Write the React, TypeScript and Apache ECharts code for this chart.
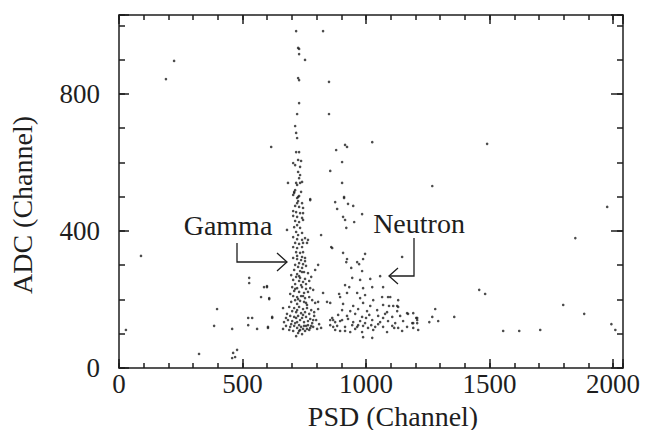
import React, { useEffect, useRef } from "react";
import * as echarts from "echarts";

// PSD (x) and ADC (y) values in channels
const gammaPoints: number[][] = [
  [717, 983], [725, 934], [729, 931], [729, 916], [753, 899], [725, 846], [729, 840],
  [729, 773], [721, 741], [713, 706], [717, 686], [721, 671], [717, 630], [729, 630],
  [725, 607], [737, 604], [705, 598], [713, 592], [733, 587], [725, 572], [733, 563],
  [729, 554], [684, 540], [717, 540], [733, 540], [741, 543], [721, 534], [737, 514],
  [713, 519], [709, 511], [725, 499],
  [709, 514], [705, 505], [729, 502], [721, 496], [725, 487], [721, 481], [741, 481],
  [713, 473], [729, 470], [745, 467], [705, 458], [717, 455], [733, 452], [745, 452],
  [705, 444], [721, 441], [741, 438], [713, 429], [729, 426], [745, 432], [721, 417],
  [709, 411], [733, 409], [717, 397], [741, 394], [725, 388], [705, 382], [721, 376],
  [741, 374], [753, 379], [765, 374], [713, 365], [729, 362], [745, 365], [761, 365],
  [705, 353], [721, 350], [741, 353], [717, 338], [733, 336], [745, 338], [721, 327],
  [741, 324], [753, 321], [705, 321],
  [721, 318], [737, 315], [753, 312], [729, 306], [745, 303], [713, 301],
  [725, 295], [741, 292], [757, 298], [709, 286], [733, 283], [749, 280], [721, 274], [765, 277], [697, 271],
  [717, 266], [733, 263], [753, 260], [705, 257], [729, 254], [745, 251], [770, 254], [713, 245], [737, 242], [778, 266],
  [701, 236], [721, 233], [741, 236], [757, 231], [774, 233], [709, 225], [729, 222], [749, 219], [765, 222], [693, 216], [786, 228],
  [705, 210], [721, 207], [737, 210], [753, 204], [770, 207], [713, 198], [733, 196], [749, 193], [782, 198], [697, 193], [721, 187], [761, 184], [794, 190],
  [689, 178], [709, 175], [729, 178], [745, 172], [761, 175], [778, 169], [701, 166], [717, 163], [737, 160], [753, 163], [770, 158], [790, 163], [680, 158], [806, 172],
  [693, 152], [709, 149], [725, 152], [741, 146], [757, 149], [774, 143], [790, 152], [684, 140], [701, 137], [721, 134], [733, 140], [749, 134], [765, 137], [782, 131], [798, 140], [668, 134], [810, 128],
  [676, 123], [693, 120], [709, 123], [721, 117], [737, 120], [745, 114], [757, 123], [774, 117], [786, 120], [802, 114], [689, 111], [705, 108], [729, 108], [753, 108], [770, 111], [725, 102], [741, 99], [717, 93], [664, 114], [818, 117],
  [713, 131], [729, 125], [749, 123], [765, 125], [697, 128], [733, 111], [761, 114], [717, 146], [745, 155], [778, 123], [676, 146], [786, 140],
  [721, 169], [757, 190], [725, 201], [745, 210], [713, 231], [757, 245], [729, 268], [741, 280],
  [680, 403], [774, 490], [818, 388], [859, 353], [774, 493],
  [599, 236], [608, 204], [794, 286], [806, 301], [826, 219], [842, 193], [855, 190], [806, 193],
  [891, 216], [620, 149], [603, 120], [664, 175], [863, 146], [875, 134], [867, 120],
];

const neutronPoints: number[][] = [
  [875, 484], [911, 499], [927, 479], [948, 473], [883, 464], [907, 441], [915, 432], [952, 426], [984, 449], [920, 409],
  [863, 350], [907, 336], [923, 318], [920, 309], [996, 333], [988, 318], [964, 309], [972, 303], [1146, 324],
  [940, 292], [984, 283], [944, 263], [976, 257], [1017, 260], [1057, 268], [915, 242], [932, 236], [988, 233],
  [1025, 236], [1069, 236], [923, 219], [964, 219], [996, 213], [1065, 207], [895, 207], [976, 204], [1029, 198],
  [1098, 207], [907, 187], [948, 181], [988, 190], [1017, 181], [1069, 184], [1110, 181], [1130, 178],
  [903, 169], [936, 166], [968, 172], [1004, 166], [1045, 169], [1085, 163], [1126, 166], [887, 155], [923, 152],
  [956, 158], [984, 149], [1013, 155], [1049, 152], [1077, 158], [1106, 149], [1138, 152], [1170, 158], [867, 140],
  [895, 137], [927, 143], [948, 134], [976, 137], [996, 131], [1025, 140], [1057, 134], [1089, 137], [1118, 131],
  [1150, 137], [1187, 131], [1207, 140], [855, 125], [883, 123], [915, 120], [944, 125], [964, 120], [988, 123],
  [1008, 117], [1037, 120], [1069, 120], [1106, 123], [1130, 117], [1166, 120], [1191, 117], [875, 111], [936, 105],
  [984, 105], [1029, 111], [1085, 105], [1146, 108], [1211, 111], [988, 90], [1025, 88],
  [1089, 207], [1130, 198], [1093, 181], [1126, 181], [1166, 160], [1191, 160], [1207, 146], [1191, 131],
  [903, 140], [956, 114], [915, 108], [1049, 128], [1069, 146], [1000, 146], [968, 125], [1021, 125], [1114, 117],
  [895, 108], [855, 140],
];

const strayPoints: number[][] = [
  [527, 263], [527, 248], [587, 236], [599, 239], [575, 207], [608, 201], [397, 172], [523, 146], [539, 146],
  [523, 125], [559, 114], [620, 146], [385, 123], [458, 114], [603, 117], [28, 111], [89, 327], [223, 896],
  [190, 843], [616, 645], [324, 41], [462, 44], [478, 53], [458, 29], [470, 32],
  [826, 983], [850, 835], [850, 741], [915, 651], [923, 645], [879, 636], [903, 601], [855, 575], [903, 540],
  [911, 496], [1268, 531], [1490, 654], [1847, 379], [1976, 470], [1025, 659],
  [1458, 228], [1482, 216], [1280, 172], [1203, 146], [1268, 149], [1357, 149], [1256, 134], [1292, 137],
  [1207, 131], [1555, 108], [1620, 108], [1705, 111], [1798, 184], [1883, 158], [1993, 128], [2009, 111],
];

const xLabelStep = 500;
const xMinorStep = 100;
const yLabelStep = 400;
const yMinorStep = 100;

const FONT = '"Liberation Serif", "Times New Roman", serif';
const INK = "#1e1e1e";

export default function App() {
  const ref = useRef<HTMLDivElement>(null);
  useEffect(() => {
    if (!ref.current) return;
    const chart = echarts.init(ref.current, undefined, { renderer: "svg" });
    const line = { color: INK, width: 1.5 };
    const xBase = { type: "value" as const, min: 0, max: 2040, splitLine: { show: false } };
    const yBase = { type: "value" as const, min: 0, max: 1030, splitLine: { show: false } };
    const shownLine = { show: true, onZero: false, lineStyle: line };
    const hiddenLine = { show: false, onZero: false };
    const scatterStyle = {
      type: "scatter" as const,
      symbol: "circle",
      symbolSize: 2.6,
      itemStyle: { color: INK },
      xAxisIndex: 0,
      yAxisIndex: 0,
    };
    const textStyle = (text: string) => ({
      text, fontFamily: FONT, fontSize: 28, fill: INK,
      align: "center", verticalAlign: "middle", textAlign: "center", textVerticalAlign: "middle",
    });
    chart.setOption({
      animation: false,
      backgroundColor: "#fff",
      grid: { left: 119, right: 22, top: 15, bottom: 62 },
      xAxis: [
        {
          ...xBase, position: "bottom", interval: xLabelStep,
          axisLine: shownLine,
          axisTick: { show: true, inside: true, length: 9, lineStyle: line },
          axisLabel: {
            show: true, margin: 2, fontFamily: FONT, fontSize: 27, color: INK,
            formatter: (v: number) => (v % xLabelStep === 0 ? String(v) : ""),
          },
        },
        {
          ...xBase, position: "bottom", interval: xMinorStep,
          axisLine: hiddenLine,
          axisTick: { show: true, inside: true, length: 5, lineStyle: line },
          axisLabel: { show: false },
        },
        {
          ...xBase, position: "top", interval: xLabelStep,
          axisLine: shownLine,
          axisTick: { show: true, inside: true, length: 9, lineStyle: line },
          axisLabel: { show: false },
        },
        {
          ...xBase, position: "top", interval: xMinorStep,
          axisLine: hiddenLine,
          axisTick: { show: true, inside: true, length: 5, lineStyle: line },
          axisLabel: { show: false },
        },
      ],
      yAxis: [
        {
          ...yBase, position: "left", interval: yLabelStep,
          axisLine: shownLine,
          axisTick: { show: true, inside: true, length: 10, lineStyle: line },
          axisLabel: {
            show: true, margin: 19, fontFamily: FONT, fontSize: 27, color: INK,
            formatter: (v: number) => (v % yLabelStep === 0 ? String(v) : ""),
          },
        },
        {
          ...yBase, position: "left", interval: yMinorStep,
          axisLine: hiddenLine,
          axisTick: { show: true, inside: true, length: 6, lineStyle: line },
          axisLabel: { show: false },
        },
        {
          ...yBase, position: "right", interval: yLabelStep,
          axisLine: shownLine,
          axisTick: { show: true, inside: true, length: 12, lineStyle: line },
          axisLabel: { show: false },
        },
        {
          ...yBase, position: "right", interval: yMinorStep,
          axisLine: hiddenLine,
          axisTick: { show: true, inside: true, length: 6, lineStyle: line },
          axisLabel: { show: false },
        },
      ],
      series: [
        { ...scatterStyle, name: "Gamma", data: gammaPoints },
        { ...scatterStyle, name: "Neutron", data: neutronPoints },
        { ...scatterStyle, name: "Other", data: strayPoints },
      ],
      graphic: [
        { type: "text", x: 393, y: 416, style: textStyle("PSD (Channel)") },
        { type: "text", x: 22, y: 205, rotation: Math.PI / 2, style: textStyle("ADC (Channel)") },
        { type: "text", x: 228, y: 225, style: textStyle("Gamma") },
        { type: "text", x: 419, y: 223, style: textStyle("Neutron") },
        {
          type: "polyline", shape: { points: [[237, 243], [237, 262], [287, 262]] },
          style: { stroke: INK, lineWidth: 1.3, fill: null },
        },
        {
          type: "polyline", shape: { points: [[277, 253], [287, 262], [277, 271]] },
          style: { stroke: INK, lineWidth: 1.3, fill: null },
        },
        {
          type: "polyline", shape: { points: [[414, 238], [414, 276], [389, 276]] },
          style: { stroke: INK, lineWidth: 1.3, fill: null },
        },
        {
          type: "polyline", shape: { points: [[398, 268], [389, 276], [398, 284]] },
          style: { stroke: INK, lineWidth: 1.3, fill: null },
        },
      ],
    });
    return () => chart.dispose();
  }, []);
  return (
    <div
      ref={ref}
      style={{ position: "fixed", left: 0, top: 0, width: 645, height: 430, background: "#fff" }}
    />
  );
}
